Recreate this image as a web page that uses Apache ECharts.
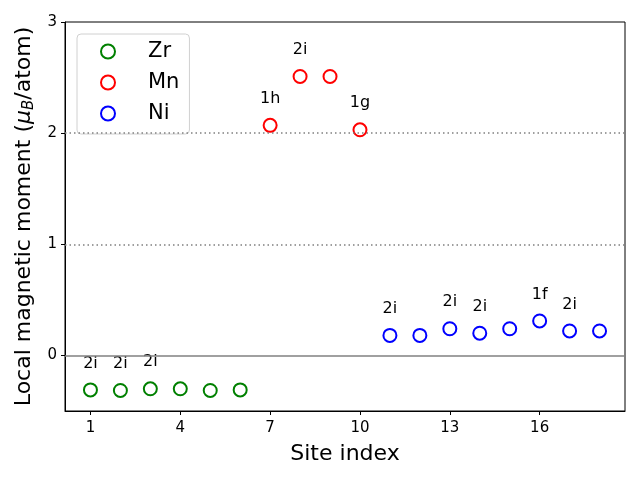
<!DOCTYPE html>
<html>
<head>
	<meta charset="utf-8">
	<title>Local magnetic moment</title>
	<style type="text/css">
		*{ padding: 0; margin: 0; }
		#chart{ width: 640px; height: 480px; }
	</style>
</head>
<body>
	<div id="chart"></div>
<script type="text/javascript" src="https://cdn.jsdelivr.net/npm/echarts@6/dist/echarts.min.js"></script>
<script type="text/javascript">
	// site index and moments per element
	var zrSites = [1, 2, 3, 4, 5, 6];
	var zrMoments = [-0.31, -0.315, -0.30, -0.30, -0.315, -0.31];
	var zrLabels = ['2i', '2i', '2i', '', '', ''];

	var mnSites = [7, 8, 9, 10];
	var mnMoments = [2.07, 2.51, 2.51, 2.03];
	var mnLabels = ['1h', '2i', '', '1g'];

	var niSites = [11, 12, 13, 14, 15, 16, 17, 18];
	var niMoments = [0.18, 0.18, 0.24, 0.20, 0.24, 0.31, 0.22, 0.22];
	var niLabels = ['2i', '', '2i', '2i', '', '1f', '2i', ''];

	var xTicks = [1, 4, 7, 10, 13, 16];
	var yTicks = [0, 1, 2, 3];
	var dottedLevels = [1, 2];

	var font = 'DejaVu Sans';

	function points(xs, ys, labels) {
		return xs.map(function(x, i) {
			return { value: [x, ys[i]], label: { show: labels[i] !== '', formatter: labels[i] } };
		});
	}

	function makeSeries(name, color, xs, ys, labels) {
		return {
			type: 'scatter',
			name: name,
			symbol: 'emptyCircle',
			symbolSize: 13,
			itemStyle: { color: color, borderColor: color, borderWidth: 1.2, opacity: 1 },
			label: {
				position: 'top',
				distance: 11,
				color: '#000',
				fontFamily: font,
				fontSize: 16
			},
			data: points(xs, ys, labels),
			z: 3
		};
	}

	var chart = echarts.init(document.getElementById('chart'));

	var series = [
		makeSeries('Zr', '#008000', zrSites, zrMoments, zrLabels),
		makeSeries('Mn', '#ff0000', mnSites, mnMoments, mnLabels),
		makeSeries('Ni', '#0000ff', niSites, niMoments, niLabels)
	];

	// reference lines
	series[0].markLine = {
		silent: true,
		symbol: 'none',
		label: { show: false },
		data: dottedLevels.map(function(v) {
			return { yAxis: v, lineStyle: { color: '#808080', width: 1.5, type: [1.5, 3], opacity: 1 } };
		}).concat([{ yAxis: 0, lineStyle: { color: '#808080', width: 1.5, type: 'solid', opacity: 1 } }])
	};

	var option = {
		animation: false,
		grid: {
			left: 65,
			right: 15,
			top: 22,
			bottom: 69,
			show: true,
			borderColor: '#000',
			borderWidth: 1,
			backgroundColor: 'transparent'
		},
		legend: {
			orient: 'vertical',
			left: 77,
			top: 34,
			padding: [7, 10, 10, 23],
			itemWidth: 14,
			itemHeight: 14,
			itemGap: 10,
			backgroundColor: 'rgba(255,255,255,0.8)',
			borderColor: '#d0d0d0',
			borderWidth: 1,
			borderRadius: 4,
			textStyle: { fontFamily: font, fontSize: 21, color: '#000', padding: [0, 0, 0, 28] },
			data: ['Zr', 'Mn', 'Ni']
		},
		xAxis: {
			type: 'value',
			min: 0.15,
			max: 18.85,
			name: 'Site index',
			nameLocation: 'middle',
			nameGap: 32,
			nameTextStyle: { fontFamily: font, fontSize: 22, color: '#000' },
			axisLine: { show: true, onZero: false, lineStyle: { color: '#000', width: 1 } },
			axisTick: { show: true, customValues: xTicks, length: 4, lineStyle: { color: '#000' } },
			axisLabel: { customValues: xTicks, fontFamily: font, fontSize: 15, color: '#000', margin: 10 },
			splitLine: { show: false }
		},
		yAxis: {
			type: 'value',
			min: -0.5,
			max: 3,
			name: 'Local magnetic moment ({mu|μ}{sub|B}/atom)',
			nameLocation: 'middle',
			nameGap: 28,
			nameRotate: 90,
			nameTextStyle: {
				fontFamily: font,
				fontSize: 22,
				color: '#000',
				rich: {
					mu: { fontFamily: font, fontSize: 22, fontStyle: 'italic', color: '#000' },
					sub: { fontFamily: font, fontSize: 15, fontStyle: 'italic', color: '#000', padding: [10, 0, 0, 0] }
				}
			},
			axisLine: { show: true, onZero: false, lineStyle: { color: '#000', width: 1 } },
			axisTick: { show: true, customValues: yTicks, length: 4, lineStyle: { color: '#000' } },
			axisLabel: { customValues: yTicks, fontFamily: font, fontSize: 15, color: '#000', margin: 8 },
			splitLine: { show: false }
		},
		series: series
	};
	chart.setOption(option);
</script>
</body>
</html>
